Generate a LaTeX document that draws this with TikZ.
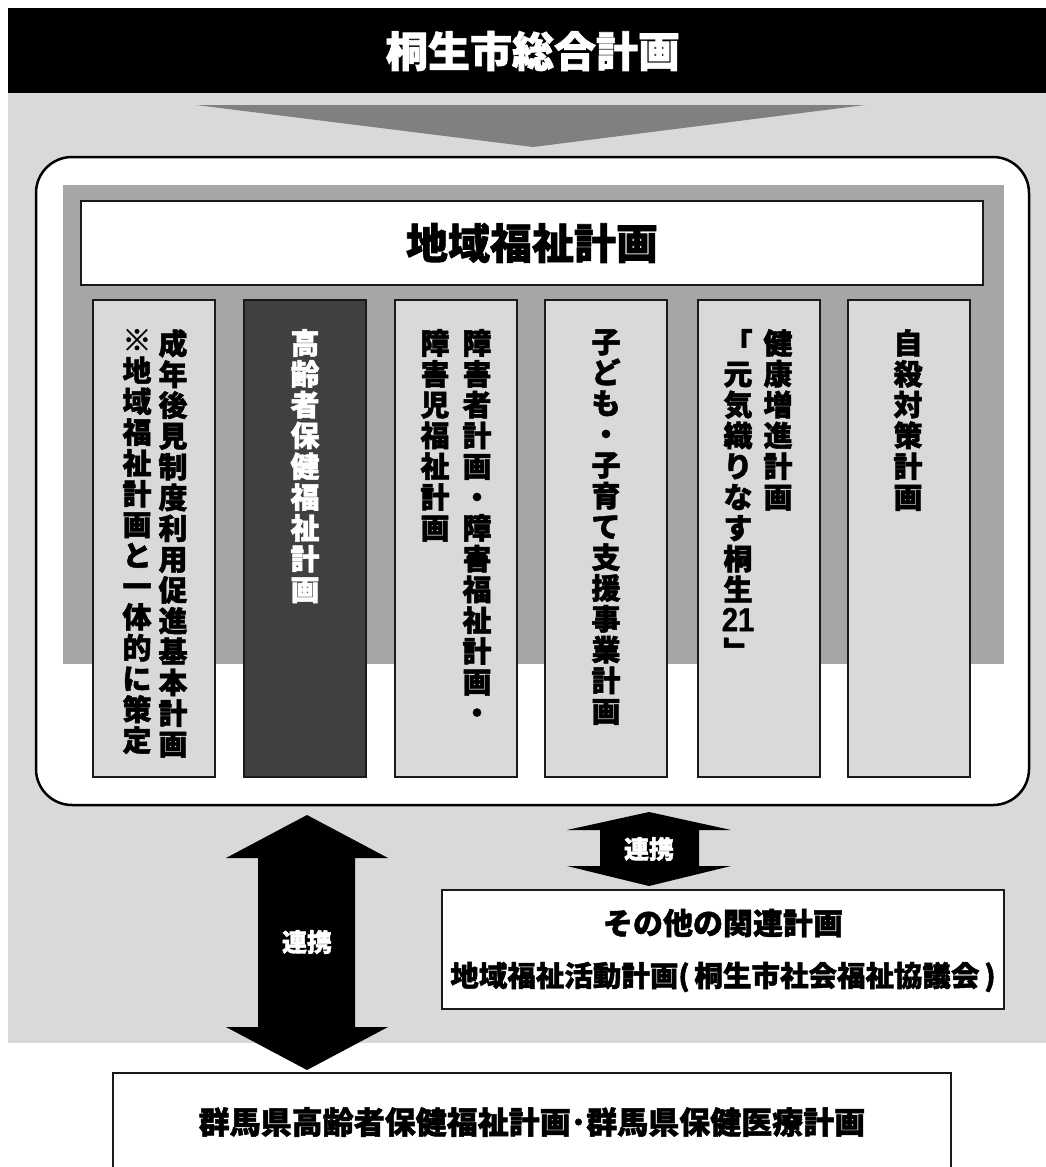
\documentclass[tikz,border=0pt]{standalone}
\usepackage{fontspec}
\usepackage{graphicx}
\setmainfont{Noto Sans CJK JP}[BoldFeatures={FakeBold=1.6}]
\newfontfamily\digitfont{Liberation Sans}[FakeBold=1.2]
\makeatletter
\newcommand\vstack[1]{\vbox{\baselineskip=30.8pt\lineskiplimit=-100pt\lineskip=0pt\@tfor\vch:=#1\do{\hbox to 30pt{\hss\vch\hss}}}}
\makeatother
\definecolor{bggray}{HTML}{D9D9D9}
\definecolor{midgray}{HTML}{A6A6A6}
\definecolor{trigray}{HTML}{808080}
\definecolor{darkcol}{HTML}{404040}
\definecolor{edge}{HTML}{1A1A1A}
\tikzset{
  colbox/.style={draw=edge, line width=2pt, fill=bggray},
  vtxt/.style={anchor=north, inner sep=0pt, font=\bfseries\fontsize{29}{31}\selectfont},
  plainbox/.style={draw=edge, line width=2pt, fill=white},
  arrowtxt/.style={inner sep=0pt, text=white, font=\bfseries\fontsize{25}{27}\selectfont},
}
\begin{document}
\begin{tikzpicture}[x=1pt,y=-1pt]
\useasboundingbox (0,0) rectangle (1046,1167);
\fill[white] (0,0) rectangle (1046,1167);
% top band
\fill[black] (8,8) rectangle (1046,93);
\node[inner sep=0pt, text=white, font=\bfseries\fontsize{42}{46}\selectfont] (title) at (533,51) {桐生市総合計画};
% gray background
\fill[bggray] (8,93) rectangle (1046,1043);
% down triangle
\fill[trigray] (196,105) -- (865,105) -- (533,147) -- cycle;
% rounded frame
\draw[line width=2.5pt, fill=white, rounded corners=36pt] (36,157) rectangle (1029,805);
% mid gray band
\fill[midgray] (63,185) rectangle (1004,664);
% title box
\draw[plainbox] (81,201) rectangle (983,285);
\node[inner sep=0pt, font=\bfseries\fontsize{42}{46}\selectfont] (chiiki) at (532,243) {地域福祉計画};
% columns
\draw[colbox] (93,300) rectangle (215,777);
\draw[colbox, fill=darkcol] (244,300) rectangle (366,777);
\draw[colbox] (395,300) rectangle (517,777);
\draw[colbox] (545,300) rectangle (667,777);
\draw[colbox] (698,300) rectangle (820,777);
\draw[colbox] (848,300) rectangle (970,777);
% column texts
\node[vtxt] (c1r) at (173,329) {\vstack{成年後見制度利用促進基本計画}};
\node[vtxt] (c1l) at (137,329) {\vstack{※地域福祉計画と一体的に策定}};
\node[vtxt, text=white] (c2) at (305,329) {\vstack{高齢者保健福祉計画}};
\node[vtxt] (c3r) at (477,329) {\vstack{障害者計画・障害福祉計画・}};
\node[vtxt] (c3l) at (435,329) {\vstack{障害児福祉計画}};
\node[vtxt] (c4) at (606,329) {\vstack{子ども・子育て支援事業計画}};
\node[vtxt] (c5r) at (778,329) {\vstack{健康増進計画}};
\node[vtxt] (c5l) at (738,329) {\vstack{「元気織りなす桐生{{\digitfont\fontsize{29}{29}\selectfont\scalebox{1}[1.15]{21}}}﹂}};
\node[vtxt] (c6) at (908,329) {\vstack{自殺対策計画}};
% big double arrow
\fill[black] (307,815) -- (388,858) -- (355,858) -- (355,1027) -- (388,1027) -- (307,1070)
  -- (226,1027) -- (258,1027) -- (258,858) -- (226,858) -- cycle;
\node[arrowtxt] (renkei1) at (307,942) {連携};
% small double arrow
\fill[black] (649,812) -- (731,830) -- (699,830) -- (699,866) -- (731,866) -- (649,886)
  -- (567,866) -- (600,866) -- (600,830) -- (567,830) -- cycle;
\node[arrowtxt] (renkei2) at (649,849) {連携};
% other plans box
\draw[plainbox] (442,890) rectangle (1004,1009);
\node[inner sep=0pt, font=\bfseries\fontsize{30}{32}\selectfont] (sonota) at (723,923) {その他の関連計画};
\node[inner sep=0pt, font=\bfseries\fontsize{28.5}{30}\selectfont] (katsudo) at (723,977) {地域福祉活動計画(\,桐生市社会福祉協議会\,)};
% bottom box
\draw[plainbox] (113,1073) rectangle (951,1195);
\node[inner sep=0pt, font=\bfseries\fontsize{31}{33}\selectfont] (gunma) at (532,1122) {群馬県高齢者保健福祉計画･群馬県保健医療計画};
\end{tikzpicture}
\end{document}
